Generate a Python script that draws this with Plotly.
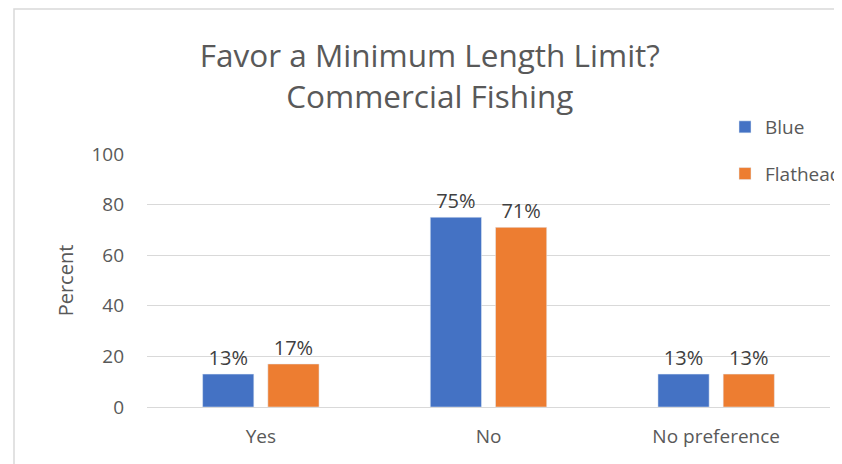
import plotly.graph_objects as go

categories = ["Yes", "No", "No preference"]
blue_values = [13, 75, 13]
flathead_values = [17, 71, 13]
series_names = ["Blue", "Flathead"]
y_ticks = [0, 20, 40, 60, 80, 100]

FONT = "'Open Sans', sans-serif"
TXT = "#595959"

# page body has an 8px offset; plot area in figure coords: x 139..822, y 146..399
PL, PR, PT, PB = 139, 822, 146, 399
PW, PH = PR - PL, PB - PT

fig = go.Figure()
for name, vals, color in [(series_names[0], blue_values, "#4472C4"),
                          (series_names[1], flathead_values, "#ED7D31")]:
    fig.add_trace(go.Bar(
        x=categories, y=vals, name=name, marker_color=color,
        text=[f"{v}%" for v in vals], textposition="outside",
        textfont=dict(size=20, color="#404040", family=FONT),
        cliponaxis=False, legendgroup=name,
    ))

fig.update_layout(
    width=842, height=464,
    margin=dict(l=PL, r=842 - PR, t=PT, b=464 - PB, autoexpand=False),
    paper_bgcolor="white", plot_bgcolor="white",
    font=dict(family=FONT, color=TXT, size=19),
    title=dict(text="Favor a Minimum Length Limit?<br>Commercial Fishing",
               x=0.501, xanchor="center", xref="container",
               y=0.872, yanchor="middle", yref="container",
               font=dict(size=31.5, color=TXT, family=FONT)),
    barmode="group", bargap=0.427, bargroupgap=0.215,
    showlegend=True,
    legend=dict(x=(717 - PL) / PW, xanchor="left", y=(PB - 100) / PH, yanchor="top",
                bgcolor="rgba(0,0,0,0)", font=dict(size=19, color=TXT),
                tracegroupgap=19, traceorder="grouped"),
    xaxis=dict(showline=True, linecolor="#d9d9d9", linewidth=1, ticks="",
               tickfont=dict(size=19, color=TXT), ticklabelstandoff=12),
    yaxis=dict(range=[0, 100], tickvals=y_ticks, showgrid=True, gridcolor="#d9d9d9",
               gridwidth=1, zeroline=False, ticks="", showline=False,
               tickfont=dict(size=19, color=TXT), ticklabelstandoff=22,
               title=dict(text="Percent", font=dict(size=20, color=TXT), standoff=12)),
)

fig.add_shape(type="rect", xref="paper", yref="paper",
              x0=(6 - PL) / PW, x1=2, y0=-1, y1=(PB - 1) / PH,
              line=dict(color="#d9d9d9", width=1.5), fillcolor="rgba(0,0,0,0)", layer="below")

fig.write_html("out.html")
